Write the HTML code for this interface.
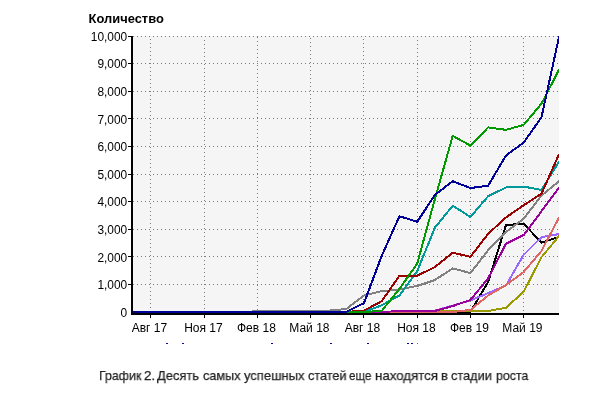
<!DOCTYPE html>
<html><head><meta charset="utf-8"><style>
html,body{margin:0;padding:0;background:#fff;}
body{width:600px;height:400px;overflow:hidden;position:relative;font-family:"Liberation Sans",sans-serif;}
svg{position:absolute;left:0;top:0;will-change:transform;}
svg text{font-family:"Liberation Sans",sans-serif;font-size:11.9px;fill:#000;}
.cap span{position:absolute;top:368px;white-space:nowrap;font-family:"Liberation Sans",sans-serif;font-size:13.5px;color:#222;-webkit-text-stroke:0.25px #222;transform-origin:0 0;will-change:transform;}
</style></head><body>
<svg width="600" height="400" viewBox="0 0 600 400">
<defs><clipPath id="cp"><rect x="133" y="36" width="426" height="277"/></clipPath></defs>
<rect x="133" y="36" width="426" height="277" fill="#f5f5f5"/>
<g stroke="#7a7a7a" stroke-width="1" stroke-dasharray="1 3" shape-rendering="crispEdges">
<line x1="133" y1="36.5" x2="559" y2="36.5"/>
<line x1="133" y1="63.5" x2="559" y2="63.5"/>
<line x1="133" y1="91.5" x2="559" y2="91.5"/>
<line x1="133" y1="118.5" x2="559" y2="118.5"/>
<line x1="133" y1="146.5" x2="559" y2="146.5"/>
<line x1="133" y1="174.5" x2="559" y2="174.5"/>
<line x1="133" y1="201.5" x2="559" y2="201.5"/>
<line x1="133" y1="229.5" x2="559" y2="229.5"/>
<line x1="133" y1="256.5" x2="559" y2="256.5"/>
<line x1="133" y1="284.5" x2="559" y2="284.5"/>
<line x1="150.50" y1="39" x2="150.50" y2="311"/>
<line x1="204.50" y1="40" x2="204.50" y2="311"/>
<line x1="257.50" y1="37" x2="257.50" y2="311"/>
<line x1="310.50" y1="38" x2="310.50" y2="311"/>
<line x1="363.50" y1="39" x2="363.50" y2="311"/>
<line x1="417.50" y1="40" x2="417.50" y2="311"/>
<line x1="470.50" y1="37" x2="470.50" y2="311"/>
<line x1="523.50" y1="38" x2="523.50" y2="311"/>
</g>
<g fill="none" stroke-width="2" stroke-linejoin="round" stroke-linecap="butt" clip-path="url(#cp)" shape-rendering="crispEdges">
<polyline points="133.20,312.00 150.95,312.00 168.70,312.00 186.45,312.00 204.20,312.00 221.95,312.00 239.70,312.00 257.45,312.00 275.20,312.00 292.95,312.00 310.70,312.00 328.45,312.00 346.20,312.00 363.95,312.00 381.70,312.00 399.45,312.00 417.20,312.00 434.95,312.00 452.70,312.00 470.45,312.00 488.20,281.64 505.95,225.20 523.70,223.54 541.45,242.72 559.20,236.79" stroke="#000000"/>
<polyline points="133.20,312.00 150.95,312.00 168.70,312.00 186.45,312.00 204.20,312.00 221.95,312.00 239.70,312.00 257.45,312.00 275.20,312.00 292.95,312.00 310.70,312.00 328.45,312.00 346.20,312.00 363.95,312.00 381.70,312.00 399.45,311.01 417.20,311.01 434.95,311.01 452.70,311.01 470.45,311.01 488.20,311.01 505.95,307.72 523.70,291.71 541.45,257.21 559.20,235.82" stroke="#999900"/>
<polyline points="133.20,312.00 150.95,312.00 168.70,312.00 186.45,312.00 204.20,312.00 221.95,312.00 239.70,312.00 257.45,312.00 275.20,312.00 292.95,312.00 310.70,312.00 328.45,312.00 346.20,312.00 363.95,312.00 381.70,312.00 399.45,312.00 417.20,312.00 434.95,310.62 452.70,305.51 470.45,300.41 488.20,293.09 505.95,285.50 523.70,254.73 541.45,237.20 559.20,234.03" stroke="#9966ff"/>
<polyline points="133.20,312.00 150.95,312.00 168.70,312.00 186.45,312.00 204.20,312.00 221.95,312.00 239.70,312.00 257.45,312.00 275.20,312.00 292.95,312.00 310.70,312.00 328.45,312.00 346.20,312.00 363.95,312.00 381.70,312.00 399.45,312.00 417.20,312.00 434.95,312.00 452.70,312.00 470.45,309.93 488.20,295.44 505.95,285.09 523.70,271.98 541.45,251.00 559.20,217.19" stroke="#e06666"/>
<polyline points="133.20,312.00 150.95,312.00 168.70,312.00 186.45,312.00 204.20,312.00 221.95,312.00 239.70,312.00 257.45,312.00 275.20,312.00 292.95,312.00 310.70,312.00 328.45,312.00 346.20,312.00 363.95,312.00 381.70,312.00 399.45,311.01 417.20,311.01 434.95,310.90 452.70,306.07 470.45,299.99 488.20,278.33 505.95,243.69 523.70,235.00 541.45,211.26 559.20,187.52" stroke="#990099"/>
<polyline points="133.20,312.00 150.95,312.00 168.70,312.00 186.45,312.00 204.20,312.00 221.95,312.00 239.70,312.00 257.45,311.31 275.20,311.17 292.95,311.09 310.70,310.95 328.45,310.62 346.20,309.02 363.95,295.44 381.70,291.16 399.45,289.51 417.20,285.92 434.95,279.98 452.70,268.39 470.45,273.08 488.20,250.18 505.95,231.96 523.70,218.71 541.45,195.53 559.20,181.18" stroke="#808080"/>
<polyline points="133.20,312.00 150.95,312.00 168.70,312.00 186.45,312.00 204.20,312.00 221.95,312.00 239.70,312.00 257.45,312.00 275.20,312.00 292.95,312.00 310.70,312.00 328.45,312.00 346.20,312.00 363.95,312.00 381.70,305.24 399.45,295.44 417.20,271.15 434.95,227.54 452.70,205.74 470.45,216.92 488.20,196.08 505.95,187.52 523.70,186.56 541.45,190.01 559.20,161.30" stroke="#009999"/>
<polyline points="133.20,312.00 150.95,312.00 168.70,312.00 186.45,312.00 204.20,312.00 221.95,312.00 239.70,312.00 257.45,312.00 275.20,312.00 292.95,312.00 310.70,312.00 328.45,312.00 346.20,312.00 363.95,310.62 381.70,301.24 399.45,275.71 417.20,275.71 434.95,267.01 452.70,252.66 470.45,256.80 488.20,233.75 505.95,217.47 523.70,205.19 541.45,193.73 559.20,153.85" stroke="#990000"/>
<polyline points="133.20,312.00 150.95,312.00 168.70,312.00 186.45,312.00 204.20,312.00 221.95,312.00 239.70,312.00 257.45,312.00 275.20,312.00 292.95,312.00 310.70,312.00 328.45,312.00 346.20,312.00 363.95,312.00 381.70,310.90 399.45,288.82 417.20,263.70 434.95,198.84 452.70,135.91 470.45,145.57 488.20,127.36 505.95,129.84 523.70,124.87 541.45,103.76 559.20,69.40" stroke="#009900"/>
<polyline points="133.20,312.00 150.95,312.00 168.70,312.00 186.45,312.00 204.20,312.00 221.95,312.00 239.70,312.00 257.45,312.00 275.20,312.00 292.95,312.00 310.70,312.00 328.45,312.00 346.20,312.00 363.95,303.17 381.70,255.83 399.45,216.23 417.20,221.75 434.95,194.98 452.70,181.18 470.45,188.08 488.20,185.59 505.95,155.51 523.70,142.54 541.45,117.42 559.20,36.00" stroke="#000099"/>
</g>
<rect x="131" y="36" width="2" height="279" fill="#000"/>
<rect x="131" y="313" width="428" height="2" fill="#000"/>
<rect x="128" y="36" width="4" height="1" fill="#000"/>
<rect x="128" y="63" width="4" height="1" fill="#000"/>
<rect x="128" y="91" width="4" height="1" fill="#000"/>
<rect x="128" y="118" width="4" height="1" fill="#000"/>
<rect x="128" y="146" width="4" height="1" fill="#000"/>
<rect x="128" y="174" width="4" height="1" fill="#000"/>
<rect x="128" y="201" width="4" height="1" fill="#000"/>
<rect x="128" y="229" width="4" height="1" fill="#000"/>
<rect x="128" y="256" width="4" height="1" fill="#000"/>
<rect x="128" y="284" width="4" height="1" fill="#000"/>
<rect x="150" y="315" width="1" height="3" fill="#000"/>
<rect x="204" y="315" width="1" height="3" fill="#000"/>
<rect x="257" y="315" width="1" height="3" fill="#000"/>
<rect x="310" y="315" width="1" height="3" fill="#000"/>
<rect x="363" y="315" width="1" height="3" fill="#000"/>
<rect x="417" y="315" width="1" height="3" fill="#000"/>
<rect x="470" y="315" width="1" height="3" fill="#000"/>
<rect x="523" y="315" width="1" height="3" fill="#000"/>
<g><text x="127.2" y="40.8" text-anchor="end">10,000</text>
<text x="127.2" y="68.4" text-anchor="end">9,000</text>
<text x="127.2" y="96.0" text-anchor="end">8,000</text>
<text x="127.2" y="123.6" text-anchor="end">7,000</text>
<text x="127.2" y="151.2" text-anchor="end">6,000</text>
<text x="127.2" y="178.8" text-anchor="end">5,000</text>
<text x="127.2" y="206.4" text-anchor="end">4,000</text>
<text x="127.2" y="234.0" text-anchor="end">3,000</text>
<text x="127.2" y="261.6" text-anchor="end">2,000</text>
<text x="127.2" y="289.2" text-anchor="end">1,000</text>
<text x="127.2" y="316.8" text-anchor="end">0</text></g>
<g><text x="149.40" y="332" text-anchor="middle" style="font-size:12px">Авг 17</text>
<text x="203.40" y="332" text-anchor="middle" style="font-size:12px">Ноя 17</text>
<text x="256.40" y="332" text-anchor="middle" style="font-size:12px">Фев 18</text>
<text x="309.40" y="332" text-anchor="middle" style="font-size:12px">Май 18</text>
<text x="362.40" y="332" text-anchor="middle" style="font-size:12px">Авг 18</text>
<text x="416.40" y="332" text-anchor="middle" style="font-size:12px">Ноя 18</text>
<text x="469.40" y="332" text-anchor="middle" style="font-size:12px">Фев 19</text>
<text x="522.40" y="332" text-anchor="middle" style="font-size:12px">Май 19</text></g>
<text x="88.6" y="23" style="font-weight:bold;font-size:12.6px" textLength="75.2" lengthAdjust="spacingAndGlyphs">Количество</text>
<g fill="#0a0a9e">
<rect x="166" y="343" width="2" height="1"/><rect x="182" y="343" width="2" height="1"/><rect x="271" y="343" width="2" height="1"/><rect x="330" y="343" width="2" height="1"/><rect x="367" y="343" width="2" height="1"/><rect x="407" y="343" width="2" height="1"/><rect x="411" y="343" width="2" height="1"/><rect x="417" y="343" width="1" height="1" fill="#5a5ac0"/>
</g>
</svg>
<div class="cap"><span style="left:98.57px;transform:scaleX(0.9178)">График</span><span style="left:144.29px;transform:scaleX(0.9813)">2.</span><span style="left:157.28px;transform:scaleX(0.9549)">Десять</span><span style="left:202.51px;transform:scaleX(0.9380)">самых</span><span style="left:243.78px;transform:scaleX(0.9597)">успешных</span><span style="left:308.41px;transform:scaleX(0.9367)">статей</span><span style="left:349.46px;transform:scaleX(0.8606)">еще</span><span style="left:374.84px;transform:scaleX(0.9831)">находятся</span><span style="left:440.76px;transform:scaleX(0.9565)">в</span><span style="left:450.61px;transform:scaleX(0.9437)">стадии</span><span style="left:496.20px;transform:scaleX(0.9159)">роста</span></div>
</body></html>
